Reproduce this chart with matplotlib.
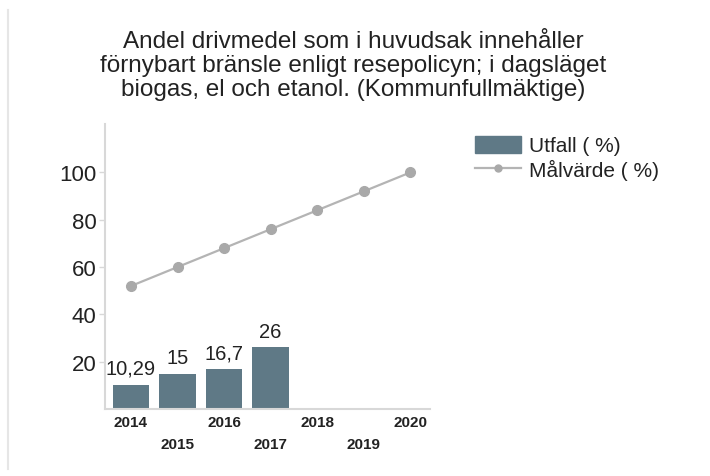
import matplotlib.pyplot as plt
from matplotlib.lines import Line2D
from matplotlib.patches import Patch

plt.rcParams["font.family"] = ["Liberation Sans", "DejaVu Sans"]

years = ["2014", "2015", "2016", "2017", "2018", "2019", "2020"]
utfall = [10.29, 15, 16.7, 26]
utfall_labels = ["10,29", "15", "16,7", "26"]
malvarde = [52, 60, 68, 76, 84, 92, 100]

title = ("Andel drivmedel som i huvudsak innehåller\n"
         "förnybart bränsle enligt resepolicyn; i dagsläget\n"
         "biogas, el och etanol. (Kommunfullmäktige)")

BAR_COLOR = "#5f7986"
LINE_COLOR = "#b4b4b4"
TEXT_COLOR = "#222222"
AXIS_COLOR = "#d8d8d8"

fig = plt.figure(figsize=(7.1, 4.77), dpi=100)
ax = fig.add_axes([0.148, 0.1405, 0.458, 0.5975])

x_all = list(range(len(years)))
x_bar = x_all[:len(utfall)]
ax.bar(x_bar, utfall, width=0.78, color=BAR_COLOR, zorder=2)
for x, v, lab in zip(x_bar, utfall, utfall_labels):
    ax.annotate(lab, (x, v), xytext=(0, 5), textcoords="offset points",
                ha="center", va="bottom", fontsize=14.5, color=TEXT_COLOR)

ax.plot(x_all, malvarde, color=LINE_COLOR, lw=1.6, marker="o", ms=7,
        markerfacecolor="#a9a9a9", markeredgecolor="#a9a9a9", zorder=3)

ax.set_xlim(-0.556, 6.43)
ax.set_ylim(0, 120.5)
ax.set_yticks([20, 40, 60, 80, 100])
ax.tick_params(axis="y", labelsize=16, colors=AXIS_COLOR, labelcolor=TEXT_COLOR,
               length=4, width=1, pad=2)
ax.set_xticks(x_all)
# alternate years drop to a second row
ax.set_xticklabels([y if i % 2 == 0 else "\n" + y for i, y in enumerate(years)])
ax.tick_params(axis="x", length=0, labelsize=11, labelcolor=TEXT_COLOR, pad=4)
for t in ax.get_xticklabels():
    t.set_fontweight("bold")
    t.set_linespacing(1.75)

for s in ["top", "right"]:
    ax.spines[s].set_visible(False)
for s in ["left", "bottom"]:
    ax.spines[s].set_color(AXIS_COLOR)
    ax.spines[s].set_linewidth(1.5)

fig.text(0.497, 0.935, title, ha="center", va="top", fontsize=17.5,
         color=TEXT_COLOR, linespacing=1.13)

handles = [Patch(facecolor=BAR_COLOR, edgecolor=BAR_COLOR),
           Line2D([0], [0], color=LINE_COLOR, lw=1.6, marker="o", ms=5,
                  markerfacecolor="#a9a9a9", markeredgecolor="#a9a9a9")]
fig.legend(handles, ["Utfall ( %)", "Målvärde ( %)"], loc="upper left",
           bbox_to_anchor=(0.643, 0.753), frameon=False, fontsize=15,
           handlelength=2.2, handleheight=0.9, labelspacing=0.15,
           handletextpad=0.4, labelcolor=TEXT_COLOR)

fig.add_artist(Line2D([0.011, 0.011], [0.015, 0.977], color="#e6e6e6", lw=1.5))

fig.savefig("out.png", dpi=100)
